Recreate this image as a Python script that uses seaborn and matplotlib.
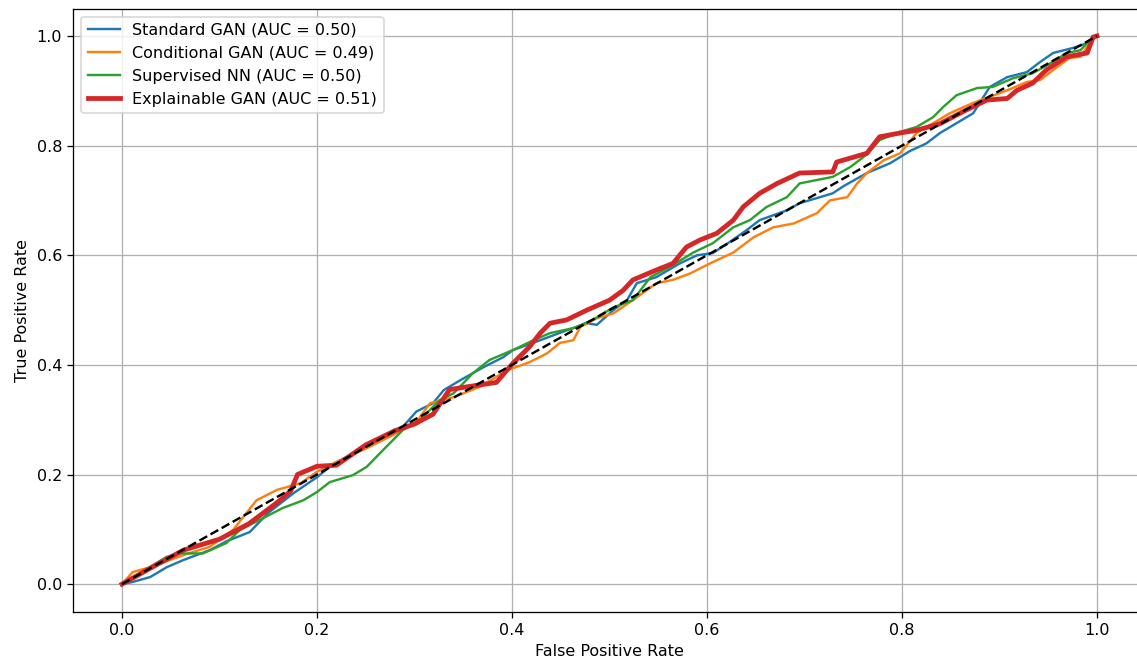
import numpy as np
import pandas as pd
import matplotlib
matplotlib.use("Agg")
import matplotlib.pyplot as plt
import seaborn as sns

# ---- data ----
std_fpr = [0.0, 0.011, 0.029, 0.046, 0.063, 0.09, 0.107, 0.131, 0.15, 0.176, 0.2, 0.217, 0.251, 0.285,
           0.302, 0.319, 0.33, 0.347, 0.371, 0.391, 0.401, 0.429, 0.456, 0.477, 0.487, 0.504, 0.518,
           0.528, 0.548, 0.572, 0.59, 0.606, 0.624, 0.64, 0.654, 0.682, 0.695, 0.716, 0.729, 0.74,
           0.764, 0.788, 0.808, 0.825, 0.839, 0.856, 0.873, 0.89, 0.908, 0.928, 0.942, 0.955, 0.975,
           0.99, 1.0]
std_tpr = [0.0, 0.004, 0.013, 0.031, 0.044, 0.062, 0.078, 0.095, 0.13, 0.166, 0.195, 0.22, 0.25, 0.281,
           0.315, 0.33, 0.354, 0.372, 0.396, 0.414, 0.427, 0.445, 0.463, 0.476, 0.473, 0.5, 0.518,
           0.549, 0.56, 0.585, 0.6, 0.604, 0.625, 0.645, 0.664, 0.682, 0.695, 0.706, 0.713, 0.726,
           0.75, 0.768, 0.79, 0.804, 0.823, 0.841, 0.859, 0.907, 0.925, 0.934, 0.953, 0.969, 0.978,
           0.987, 1.0]

cond_fpr = [0.0, 0.011, 0.029, 0.063, 0.09, 0.114, 0.138, 0.159, 0.183, 0.2, 0.224, 0.251, 0.278,
            0.302, 0.316, 0.34, 0.367, 0.395, 0.418, 0.436, 0.449, 0.463, 0.47, 0.487, 0.504, 0.524,
            0.534, 0.548, 0.565, 0.583, 0.603, 0.627, 0.648, 0.668, 0.689, 0.713, 0.726, 0.744,
            0.754, 0.764, 0.781, 0.798, 0.815, 0.832, 0.849, 0.873, 0.89, 0.908, 0.928, 0.942, 0.955,
            0.972, 0.983, 0.993, 1.0]
cond_tpr = [0.0, 0.022, 0.031, 0.053, 0.068, 0.099, 0.153, 0.172, 0.184, 0.205, 0.226, 0.248, 0.272,
            0.296, 0.33, 0.341, 0.36, 0.39, 0.405, 0.421, 0.44, 0.445, 0.469, 0.485, 0.494, 0.518,
            0.531, 0.549, 0.555, 0.567, 0.585, 0.605, 0.633, 0.651, 0.658, 0.677, 0.7, 0.706,
            0.731, 0.75, 0.773, 0.786, 0.823, 0.841, 0.859, 0.878, 0.889, 0.901, 0.916, 0.92, 0.938,
            0.96, 0.962, 0.989, 1.0]

sup_fpr = [0.0, 0.046, 0.059, 0.083, 0.107, 0.121, 0.141, 0.165, 0.186, 0.2, 0.213, 0.237, 0.251,
           0.268, 0.278, 0.288, 0.306, 0.326, 0.34, 0.36, 0.377, 0.401, 0.422, 0.439, 0.463, 0.483,
           0.504, 0.524, 0.542, 0.562, 0.586, 0.606, 0.627, 0.644, 0.661, 0.682, 0.695, 0.729,
           0.747, 0.764, 0.777, 0.798, 0.815, 0.832, 0.842, 0.856, 0.877, 0.893, 0.914, 0.934,
           0.952, 0.969, 0.983, 0.993, 1.0]
sup_tpr = [0.0, 0.05, 0.056, 0.056, 0.075, 0.099, 0.117, 0.139, 0.153, 0.168, 0.186, 0.199, 0.214,
           0.245, 0.263, 0.281, 0.3, 0.336, 0.348, 0.385, 0.409, 0.427, 0.445, 0.458, 0.467, 0.482,
           0.505, 0.518, 0.56, 0.579, 0.605, 0.622, 0.651, 0.664, 0.688, 0.706, 0.731, 0.743,
           0.761, 0.784, 0.81, 0.825, 0.834, 0.852, 0.87, 0.892, 0.905, 0.907, 0.923, 0.932,
           0.95, 0.969, 0.974, 0.993, 1.0]

xgan_fpr = [0.0, 0.03, 0.063, 0.1, 0.13, 0.16, 0.173, 0.18, 0.2, 0.22, 0.25, 0.28, 0.3, 0.319, 0.336,
            0.354, 0.384, 0.401, 0.418, 0.429, 0.439, 0.456, 0.477, 0.5, 0.514, 0.524, 0.548, 0.565,
            0.579, 0.593, 0.61, 0.627, 0.637, 0.654, 0.672, 0.695, 0.729, 0.733, 0.764, 0.777, 0.798,
            0.815, 0.839, 0.866, 0.887, 0.908, 0.918, 0.934, 0.948, 0.969, 0.99, 0.996, 1.0]
xgan_tpr = [0.0, 0.03, 0.062, 0.082, 0.11, 0.15, 0.17, 0.2, 0.215, 0.217, 0.254, 0.28, 0.292, 0.31, 0.355,
            0.36, 0.368, 0.403, 0.433, 0.458, 0.476, 0.482, 0.5, 0.518, 0.536, 0.555, 0.573, 0.585,
            0.615, 0.628, 0.64, 0.664, 0.688, 0.713, 0.731, 0.75, 0.752, 0.77, 0.786, 0.816, 0.823,
            0.828, 0.84, 0.865, 0.883, 0.886, 0.901, 0.914, 0.938, 0.962, 0.969, 0.998, 1.0]

labels = ["Standard GAN (AUC = 0.50)", "Conditional GAN (AUC = 0.49)",
          "Supervised NN (AUC = 0.50)", "Explainable GAN (AUC = 0.51)"]
colors = ["#1f77b4", "#ff7f0e", "#2ca02c", "#d62728"]
widths = [1.5, 1.5, 1.5, 3.0]

DPI = 115
fig, ax = plt.subplots(figsize=(1137 / DPI, 659 / DPI), dpi=DPI)
fig.subplots_adjust(left=0.0644, right=1.0077, top=0.987, bottom=0.072)

curves = [(std_fpr, std_tpr), (cond_fpr, cond_tpr), (sup_fpr, sup_tpr), (xgan_fpr, xgan_tpr)]
for (fx, ty), lab, c, w in zip(curves, labels, colors, widths):
    df = pd.DataFrame({"fpr": fx, "tpr": ty})
    sns.lineplot(data=df, x="fpr", y="tpr", ax=ax, color=c, linewidth=w, label=lab,
                 estimator=None, sort=False)

ax.plot([0, 1], [0, 1], "k--", linewidth=1.5)
ax.set_xlabel("False Positive Rate")
ax.set_ylabel("True Positive Rate")
ax.grid(True)
ax.legend(loc="upper left")
fig.savefig("out.png", dpi=DPI)
